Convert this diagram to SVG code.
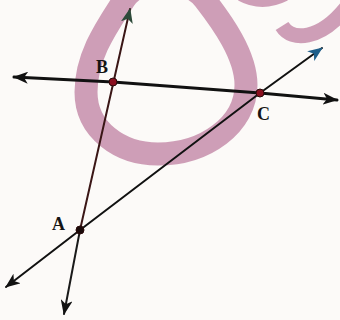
<svg xmlns="http://www.w3.org/2000/svg" width="340" height="320" viewBox="0 0 340 320">
<defs>
<style>
.ln{fill:none;stroke-linecap:round}
.lbl{font-family:"Liberation Serif",serif;font-weight:bold;font-size:18px;fill:#151515}
.wm{fill:none;stroke:#c993af;stroke-opacity:0.9}
.pt{stroke:#2a0a0a;stroke-width:1}
</style>
<marker id="ah" viewBox="0 0 15 12" refX="14" refY="6" markerWidth="15" markerHeight="12" markerUnits="userSpaceOnUse" orient="auto">
<path d="M0,0 L15,6 L0,12 L4,6 Z" fill="#111"/>
</marker>
<marker id="ahg" viewBox="0 0 15 12" refX="14" refY="6" markerWidth="15" markerHeight="12" markerUnits="userSpaceOnUse" orient="auto">
<path d="M0,0 L15,6 L0,12 L4,6 Z" fill="#2d4a3a"/>
</marker>
<marker id="ahb" viewBox="0 0 15 12" refX="14" refY="6" markerWidth="15" markerHeight="12" markerUnits="userSpaceOnUse" orient="auto">
<path d="M0,0 L15,6 L0,12 L4,6 Z" fill="#1f5f8a"/>
</marker>
</defs>
<rect width="340" height="320" fill="#fcfaf8"/>
<g id="watermark">
<path class="wm" stroke-width="23" d="M86 92 C86 130 120 154 158 154 C205 154 246 125 246 85 C246 55 222 22 205 0 C190 -22 140 -26 124 0 C108 25 86 55 86 92 Z"/>
<path class="wm" d="M282 26 C292 42 320 40 346 8" stroke-width="15"/>
<path class="wm" d="M240 -3 Q262 9 286 -3" stroke-width="8"/>
</g>
<g id="connectors">
<path class="ln" d="M113 82 L14 77" stroke="#111" stroke-width="3" marker-end="url(#ah)"/>
<path class="ln" d="M113 82 L260 93 L337 100" stroke="#111" stroke-width="3" marker-end="url(#ah)"/>
<path class="ln" d="M80 230 L130 9" stroke="#3a1616" stroke-width="2" marker-end="url(#ahg)"/>
<path class="ln" d="M80 230 L64 314" stroke="#1a1a1a" stroke-width="2" marker-end="url(#ah)"/>
<path class="ln" d="M80 230 L260 93 L322 48" stroke="#111" stroke-width="2" marker-end="url(#ahb)"/>
<path class="ln" d="M80 230 L6 287" stroke="#111" stroke-width="2" marker-end="url(#ah)"/>
</g>
<g id="B">
<circle class="pt" cx="113" cy="82" r="4" fill="#8a1020"/>
<text class="lbl" x="96" y="73">B</text>
</g>
<g id="C">
<circle class="pt" cx="260" cy="93" r="4" fill="#8a1020"/>
<text class="lbl" x="257" y="120">C</text>
</g>
<g id="A">
<circle class="pt" cx="80" cy="230" r="4" fill="#1a0a0a"/>
<text class="lbl" x="52" y="230">A</text>
</g>
</svg>
